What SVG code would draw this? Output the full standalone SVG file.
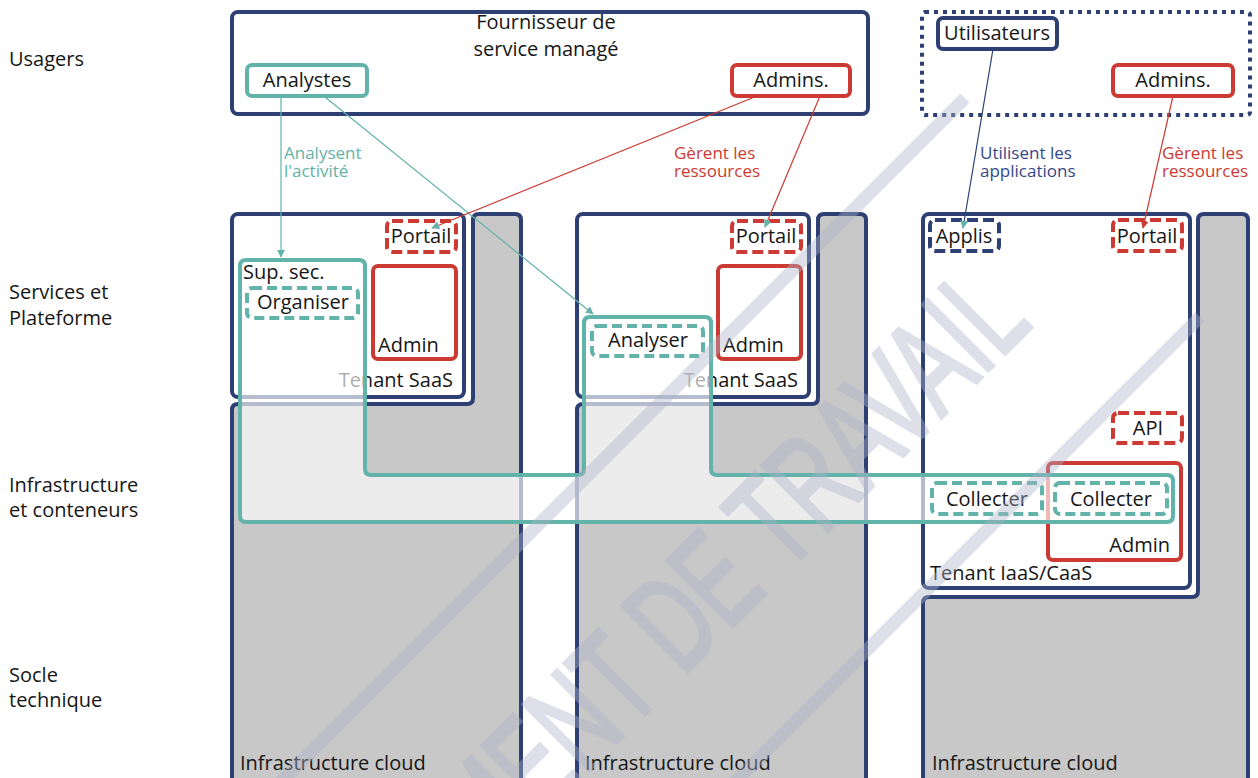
<svg xmlns="http://www.w3.org/2000/svg" width="1258" height="778" viewBox="0 0 1258 778">
  <defs>
    <style>
      text { font-family: "Open Sans", "Liberation Sans", sans-serif; fill: #161616; }
      .t20 { font-size: 20px; }
      .lbl { font-size: 17px; }
      .mid { text-anchor: middle; }
      .end { text-anchor: end; }
      .infra { fill: #c8c8c8; stroke: #2d3f73; stroke-width: 4; }
      .tenant { fill: #ffffff; stroke: #2d3f73; stroke-width: 4; }
      .navy { fill: #ffffff; stroke: #2d3f73; stroke-width: 4; }
      .red { fill: #ffffff; stroke: #cc3a33; stroke-width: 4; }
      .redd { fill: #ffffff; stroke: #cc3a33; stroke-width: 4; stroke-dasharray: 11 5; }
      .navyd { fill: #ffffff; stroke: #2d3f73; stroke-width: 4; stroke-dasharray: 11 5; }
      .teal { fill: #ffffff; stroke: #62b3a9; stroke-width: 4; }
      .teald { fill: #ffffff; stroke: #62b3a9; stroke-width: 4; stroke-dasharray: 10 5; }
      .dots { fill: none; stroke: #2d3f73; stroke-width: 4; stroke-dasharray: 4 5; }
      .c-teal { stroke: #62b3a9; stroke-width: 1.2; fill: none; }
      .c-red { stroke: #cc3a33; stroke-width: 1.2; fill: none; }
      .c-navy { stroke: #2d3f73; stroke-width: 1.2; fill: none; }
    </style>
    <marker id="tip" viewBox="0 0 10 10" refX="9" refY="5" markerWidth="8" markerHeight="8" markerUnits="userSpaceOnUse" orient="auto">
      <path d="M0,0 L10,5 L0,10 Z" fill="#62b3a9"/>
    </marker>
    <marker id="tipRed" viewBox="0 0 10 10" refX="9" refY="5" markerWidth="8" markerHeight="8" markerUnits="userSpaceOnUse" orient="auto">
      <path d="M0,0 L10,5 L0,10 Z" fill="#cc3a33"/>
    </marker>
  </defs>

  <rect width="1258" height="778" fill="#ffffff"/>

  <!-- layer labels -->
  <g id="layers">
    <text class="t20" x="9" y="66">Usagers</text>
    <text class="t20" x="9" y="299">Services et</text>
    <text class="t20" x="9" y="325">Plateforme</text>
    <text class="t20" x="9" y="492">Infrastructure</text>
    <text class="t20" x="9" y="517">et conteneurs</text>
    <text class="t20" x="9" y="682">Socle</text>
    <text class="t20" x="9" y="707">technique</text>
  </g>

  <!-- cloud infrastructure bases (L-shaped) -->
  <g id="infra-1">
    <path class="infra" d="M232,800 V410 Q232,404 238,404 H467 Q473,404 473,398 V220 Q473,214 479,214 H515 Q521,214 521,220 V800 Z"/>
    <text class="t20" x="240" y="770">Infrastructure cloud</text>
  </g>
  <g id="infra-2">
    <path class="infra" d="M577,800 V410 Q577,404 583,404 H812 Q818,404 818,398 V220 Q818,214 824,214 H860 Q866,214 866,220 V800 Z"/>
    <text class="t20" x="585" y="770">Infrastructure cloud</text>
  </g>
  <g id="infra-3">
    <path class="infra" d="M923,800 V603 Q923,597 929,597 H1192 Q1198,597 1198,591 V220 Q1198,214 1204,214 H1242 Q1248,214 1248,220 V800 Z"/>
    <text class="t20" x="932" y="770">Infrastructure cloud</text>
  </g>

  <!-- tenants -->
  <g id="tenant-saas-1">
    <rect class="tenant" x="232" y="214" width="232" height="183" rx="6"/>
    <rect class="redd" x="387" y="221" width="69" height="31" rx="5"/>
    <text class="t20 mid" x="421" y="243">Portail</text>
    <rect class="red" x="373" y="266" width="83" height="93" rx="5"/>
    <text class="t20" x="378" y="352">Admin</text>
    <text class="t20 end" x="453" y="387">Tenant SaaS</text>
  </g>
  <g id="tenant-saas-2">
    <rect class="tenant" x="577" y="214" width="232" height="183" rx="6"/>
    <rect class="redd" x="732" y="221" width="69" height="31" rx="5"/>
    <text class="t20 mid" x="766" y="243">Portail</text>
    <rect class="red" x="718" y="266" width="83" height="93" rx="5"/>
    <text class="t20" x="723" y="352">Admin</text>
    <text class="t20 end" x="798" y="387">Tenant SaaS</text>
  </g>
  <g id="tenant-iaas">
    <rect class="tenant" x="923" y="214" width="267" height="374" rx="6"/>
    <rect class="navyd" x="930" y="220" width="69" height="31" rx="5"/>
    <text class="t20 mid" x="964" y="243">Applis</text>
    <rect class="redd" x="1113" y="220" width="69" height="31" rx="5"/>
    <text class="t20 mid" x="1147" y="243">Portail</text>
    <rect class="redd" x="1113" y="413" width="69" height="30" rx="5"/>
    <text class="t20 mid" x="1148" y="435">API</text>
    <rect class="red" x="1048" y="463" width="133" height="97" rx="5"/>
    <text class="t20 end" x="1170" y="552">Admin</text>
    <text class="t20" x="930" y="580">Tenant IaaS/CaaS</text>
  </g>

  <!-- security supervision service spanning the tenants -->
  <g id="sup-sec">
    <path d="M246,260 H359 Q365,260 365,266 V469 Q365,475 371,475 H578 Q584,475 584,469 V323 Q584,317 590,317 H705 Q711,317 711,323 V469 Q711,475 717,475 H1167 Q1173,475 1173,481 V516 Q1173,522 1167,522 H246 Q240,522 240,516 V266 Q240,260 246,260 Z" fill="#ffffff" fill-opacity="0.65" stroke="#62b3a9" stroke-width="4"/>
    <text class="t20" x="243" y="279">Sup. sec.</text>
  </g>
  <g id="organiser">
    <rect class="teald" x="247" y="288" width="111" height="30" rx="5"/>
    <text class="t20 mid" x="303" y="309">Organiser</text>
  </g>
  <g id="analyser">
    <rect class="teald" x="592" y="326" width="111" height="30" rx="5"/>
    <text class="t20 mid" x="648" y="347">Analyser</text>
  </g>
  <g id="collecter-1">
    <rect class="teald" x="932" y="483" width="110" height="31" rx="5"/>
    <text class="t20 mid" x="987" y="506">Collecter</text>
  </g>
  <g id="collecter-2">
    <rect class="teald" x="1055" y="483" width="112" height="31" rx="5"/>
    <text class="t20 mid" x="1111" y="506">Collecter</text>
  </g>

  <!-- users -->
  <g id="fournisseur">
    <rect x="232" y="12" width="636" height="102" rx="6" fill="#ffffff" stroke="#2d3f73" stroke-width="4"/>
    <text class="t20 mid" x="546" y="29">Fournisseur de</text>
    <text class="t20 mid" x="546" y="56">service managé</text>
  </g>
  <g id="analystes">
    <rect class="teal" x="247" y="65" width="120" height="31" rx="5"/>
    <text class="t20 mid" x="307" y="87">Analystes</text>
  </g>
  <g id="admins-msp">
    <rect class="red" x="732" y="65" width="118" height="31" rx="5"/>
    <text class="t20 mid" x="791" y="87">Admins.</text>
  </g>
  <g id="client">
    <rect class="dots" x="922" y="12" width="328" height="103" rx="3"/>
  </g>
  <g id="utilisateurs">
    <rect class="navy" x="938" y="18" width="119" height="31" rx="5"/>
    <text class="t20 mid" x="997" y="40">Utilisateurs</text>
  </g>
  <g id="admins-client">
    <rect class="red" x="1113" y="65" width="120" height="31" rx="5"/>
    <text class="t20 mid" x="1173" y="87">Admins.</text>
  </g>

  <!-- connectors -->
  <g id="connectors">
    <line class="c-teal" x1="281" y1="96" x2="281" y2="257" marker-end="url(#tip)"/>
    <line class="c-teal" x1="325" y1="97" x2="593" y2="314" marker-end="url(#tip)"/>
    <line class="c-red" x1="757" y1="96" x2="432" y2="228" marker-end="url(#tip)"/>
    <line class="c-red" x1="820" y1="96" x2="765" y2="227" marker-end="url(#tip)"/>
    <line class="c-navy" x1="993" y1="49" x2="963" y2="228" marker-end="url(#tip)"/>
    <line class="c-red" x1="1173" y1="96" x2="1143" y2="228" marker-end="url(#tipRed)"/>
  </g>

  <!-- connector labels -->
  <g id="connector-labels">
    <text class="lbl" style="fill:#62b3a9"><tspan x="284" y="159">Analysent</tspan><tspan x="284" y="177">l'activité</tspan></text>
    <text class="lbl" style="fill:#cc3a33"><tspan x="674" y="159">Gèrent les</tspan><tspan x="674" y="177">ressources</tspan></text>
    <text class="lbl" style="fill:#34488a"><tspan x="980" y="159">Utilisent les</tspan><tspan x="980" y="177">applications</tspan></text>
    <text class="lbl" style="fill:#cc3a33"><tspan x="1162" y="159">Gèrent les</tspan><tspan x="1162" y="177">ressources</tspan></text>
  </g>

  <!-- draft stamp -->
  <g id="filigrane" opacity="0.4">
    <line x1="965" y1="98" x2="180" y2="883" stroke="#afb4ca" stroke-width="13"/>
    <line x1="1200" y1="317" x2="620" y2="897" stroke="#afb4ca" stroke-width="13"/>
    <text transform="translate(1034,325) rotate(-45) scale(0.65,1)" text-anchor="end" font-size="135" style="fill:#afb4ca;stroke:#afb4ca;stroke-width:4;font-family:'Liberation Sans',sans-serif">DOCUMENT DE TRAVAIL</text>
  </g>
</svg>
